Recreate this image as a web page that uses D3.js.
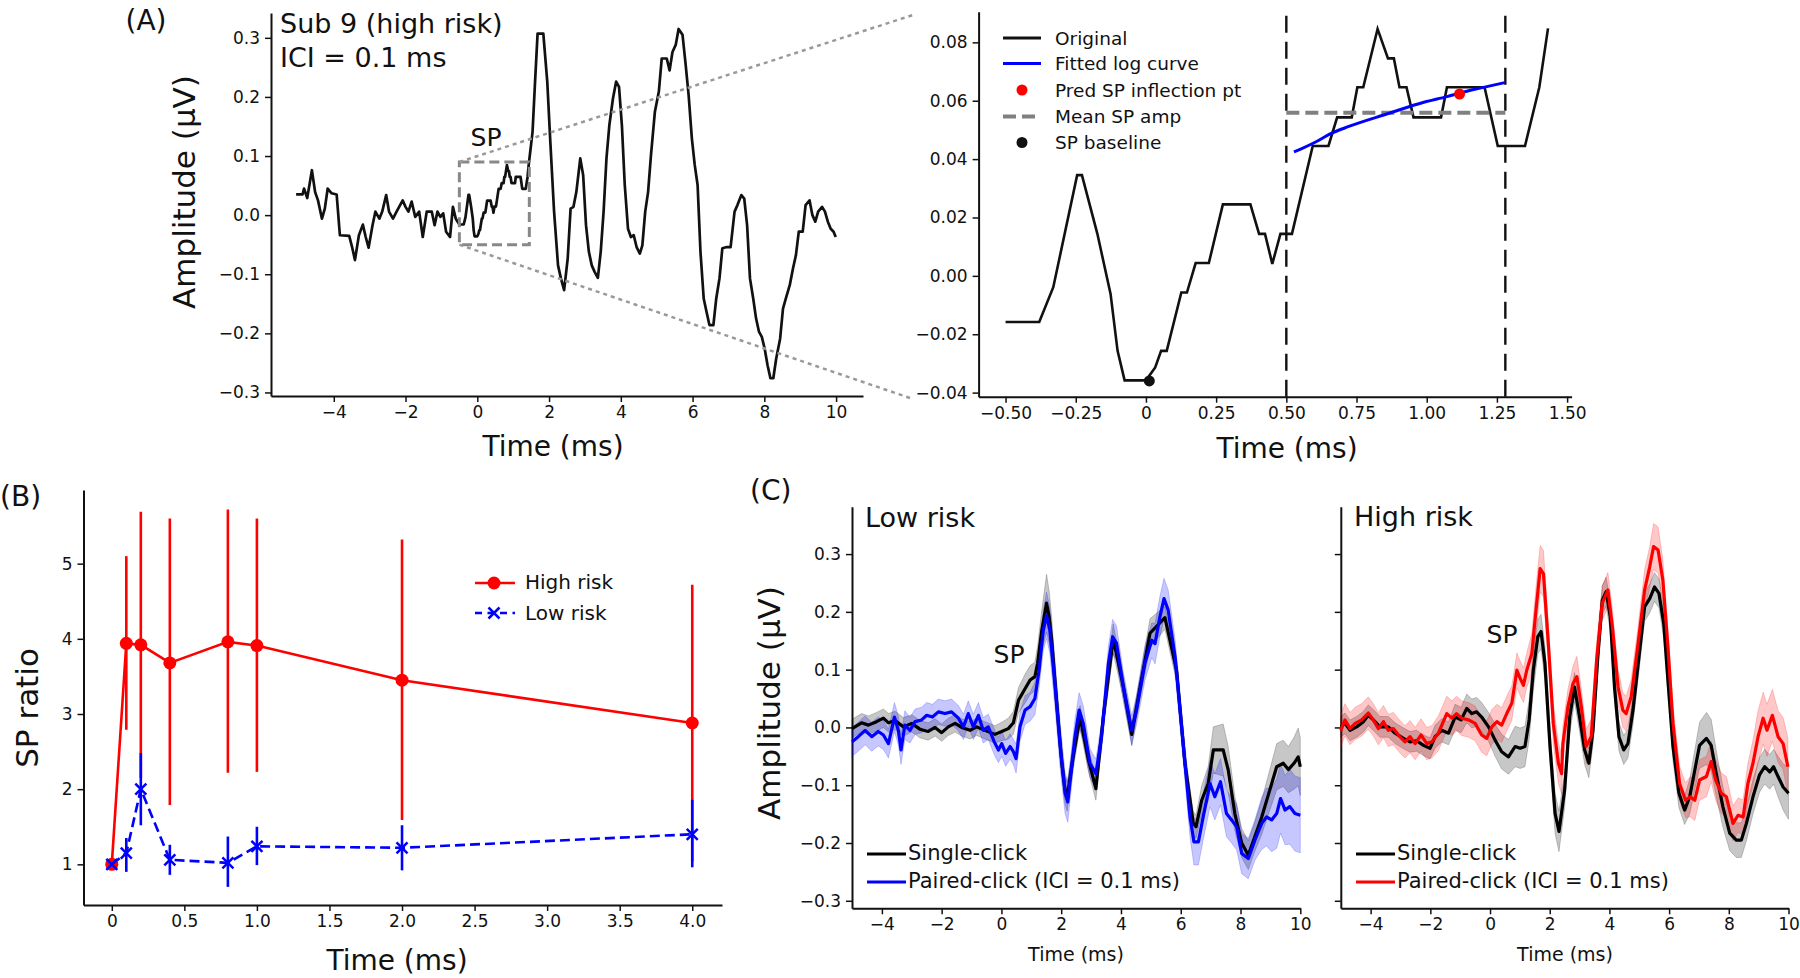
<!DOCTYPE html>
<html>
<head>
<meta charset="utf-8">
<script src="https://cdn.jsdelivr.net/npm/d3@7"></script>
<style>
  body { margin: 0; background: #fff; }
  svg { display: block; font-family: "DejaVu Sans", Verdana, sans-serif; }
</style>
</head>
<body>
<svg id="fig" width="1800" height="978"></svg>
<script>
// ---- Panel A: single subject trace (time ms, amplitude uV) ----
const subTrace = [
  [-5.05,0.035],[-4.87,0.035],[-4.83,0.045],[-4.74,0.029],[-4.61,0.076],[-4.52,0.039],[-4.44,0.025],
  [-4.33,-0.006],[-4.25,0.011],[-4.17,0.045],[-4.06,0.037],[-3.92,0.035],[-3.83,-0.034],[-3.57,-0.035],
  [-3.49,-0.054],[-3.41,-0.076],[-3.30,-0.034],[-3.19,-0.016],[-3.11,-0.037],[-3.03,-0.055],[-2.92,-0.017],
  [-2.84,0.006],[-2.73,-0.006],[-2.65,0.006],[-2.54,0.034],[-2.46,0.006],[-2.35,-0.006],[-2.25,0.006],
  [-2.08,0.025],[-2.00,0.014],[-1.92,0.006],[-1.83,0.023],[-1.73,-0.003],[-1.62,0.006],[-1.52,-0.037],
  [-1.41,0.006],[-1.27,0.006],[-1.19,-0.017],[-1.11,0.006],[-1.03,-0.003],[-0.95,0.003],[-0.87,-0.028],
  [-0.76,-0.037],[-0.68,0.014],[-0.60,-0.006],
  [-0.50,-0.0158],[-0.38,-0.0158],[-0.33,-0.0039],[-0.245,0.0345],[-0.228,0.0345],[-0.173,0.0144],
  [-0.126,-0.0062],[-0.101,-0.0257],[-0.076,-0.0358],[0.0,-0.0358],[0.033,-0.0314],[0.054,-0.0257],
  [0.074,-0.0257],[0.126,-0.0057],[0.146,-0.0057],[0.177,0.0044],[0.224,0.0044],[0.274,0.0245],
  [0.372,0.0245],[0.403,0.0144],[0.424,0.0144],[0.45,0.0041],[0.479,0.0144],[0.52,0.0144],[0.594,0.0445],
  [0.65,0.0445],[0.681,0.0543],[0.733,0.0543],[0.753,0.0646],[0.774,0.0646],[0.825,0.0846],[0.862,0.0745],
  [0.883,0.0745],[0.903,0.0646],[0.928,0.0646],[0.953,0.0543],[1.051,0.0543],[1.072,0.0646],[1.206,0.0646],
  [1.253,0.0445],[1.35,0.0445],[1.401,0.0646],[1.432,0.0848],
  [1.54,0.141],[1.61,0.226],[1.68,0.307],[1.84,0.307],[1.95,0.226],[2.03,0.13],[2.14,0.006],[2.25,-0.085],
  [2.33,-0.107],[2.42,-0.127],[2.52,-0.073],[2.60,0.011],[2.68,0.014],[2.76,0.039],[2.87,0.096],[2.95,0.068],
  [3.03,-0.017],[3.11,-0.062],[3.19,-0.085],[3.27,-0.096],[3.36,-0.106],[3.44,-0.062],[3.52,0.006],
  [3.60,0.096],[3.68,0.152],[3.78,0.197],[3.87,0.226],[3.95,0.217],[4.03,0.152],[4.11,0.051],[4.20,-0.023],
  [4.28,-0.037],[4.36,-0.034],[4.44,-0.054],[4.53,-0.065],[4.60,-0.051],[4.68,0.006],[4.76,0.039],
  [4.84,0.101],[4.95,0.175],[5.06,0.209],[5.14,0.265],[5.28,0.265],[5.36,0.245],[5.44,0.276],[5.53,0.288],
  [5.61,0.315],[5.72,0.305],[5.80,0.259],[5.89,0.203],[5.98,0.13],[6.06,0.085],[6.14,0.051],[6.22,-0.062],
  [6.31,-0.141],[6.39,-0.164],[6.47,-0.186],[6.58,-0.186],[6.66,-0.141],[6.75,-0.107],[6.83,-0.056],
  [6.96,-0.054],[7.06,-0.054],[7.17,0.006],[7.25,0.017],[7.36,0.034],[7.44,0.028],[7.52,-0.017],
  [7.60,-0.107],[7.69,-0.141],[7.77,-0.175],[7.85,-0.197],[7.93,-0.206],[8.01,-0.226],[8.09,-0.254],
  [8.17,-0.276],[8.25,-0.276],[8.33,-0.243],[8.44,-0.209],[8.52,-0.158],[8.60,-0.141],[8.71,-0.118],
  [8.80,-0.09],[8.88,-0.068],[8.96,-0.028],[9.07,-0.028],[9.15,0.017],[9.26,0.025],[9.34,0.0],
  [9.42,-0.011],[9.50,0.006],[9.61,0.014],[9.69,0.006],[9.77,-0.011],[9.85,-0.023],[9.93,-0.028],[9.99,-0.037]
];
const spBoxTime = [-0.5, 1.45];
const spBoxAmp = [-0.05, 0.09];
const zoomTimeRange = [-0.51, 1.44];
const logFitTime = [0.527, 0.557, 0.599, 0.66, 0.72, 0.866, 0.969, 1.072, 1.175, 1.278];
const logFitAmp = [0.0425, 0.0437, 0.0456, 0.0488, 0.0511, 0.0557, 0.0589, 0.0614, 0.064, 0.0662];
const spWindow = [0.5, 1.28];
const meanSpAmp = 0.0559;
const inflectionPt = [1.117, 0.0623];
const baselinePt = [0.012, -0.036];
const legendA = ["Original", "Fitted log curve", "Pred SP inflection pt", "Mean SP amp", "SP baseline"];

// ---- Panel B: SP ratio per ICI ----
const iciTimes = [0, 0.1, 0.2, 0.4, 0.8, 1.0, 2.0, 4.0];
const highRiskMean = [1.0, 3.94, 3.92, 3.68, 3.96, 3.91, 3.45, 2.88];
const highRiskLo = [1.0, 2.79, 2.15, 1.79, 2.22, 2.23, 1.59, 1.04];
const highRiskHi = [1.0, 5.10, 5.69, 5.60, 5.72, 5.60, 5.32, 4.72];
const lowRiskMean = [1.0, 1.15, 2.0, 1.06, 1.02, 1.24, 1.22, 1.40];
const lowRiskLo = [1.0, 0.90, 1.52, 0.86, 0.70, 0.99, 0.92, 0.96];
const lowRiskHi = [1.0, 1.35, 2.48, 1.26, 1.37, 1.50, 1.52, 1.86];

// ---- Panel C: grand averages [time, amplitude, sem] ----
const lowSingle = [
  [-5.0,-0.002,0.016],[-4.68,0.008,0.016],[-4.45,0.004,0.016],[-4.18,0.010,0.016],[-3.95,0.016,0.016],
  [-3.78,0.008,0.016],[-3.56,0.012,0.016],[-3.28,0.001,0.016],[-3.0,0.007,0.015],[-2.73,-0.003,0.015],
  [-2.45,-0.007,0.015],[-2.22,0.0,0.015],[-2.0,-0.009,0.015],[-1.78,0.001,0.015],[-1.55,0.007,0.015],
  [-1.33,0.0,0.015],[-1.05,-0.005,0.015],[-0.83,0.001,0.015],[-0.55,-0.005,0.015],[-0.22,-0.012,0.015],
  [0.01,-0.007,0.016],[0.23,-0.002,0.018],[0.40,0.008,0.02],[0.57,0.047,0.022],[0.79,0.067,0.025],
  [0.96,0.082,0.025],[1.12,0.088,0.025],[1.21,0.111,0.03],[1.35,0.168,0.035],[1.51,0.215,0.05],
  [1.60,0.19,0.045],[1.68,0.151,0.04],[1.85,0.042,0.03],[2.02,-0.062,0.025],[2.13,-0.108,0.025],
  [2.2,-0.12,0.025],[2.40,-0.051,0.02],[2.63,0.018,0.02],[2.91,-0.056,0.02],[3.16,-0.106,0.02],
  [3.41,0.018,0.02],[3.74,0.154,0.025],[4.08,0.07,0.02],[4.36,-0.012,0.02],[4.64,0.07,0.02],
  [4.97,0.163,0.025],[5.47,0.19,0.02],[5.86,0.099,0.02],[6.14,-0.062,0.02],[6.42,-0.166,0.02],
  [6.51,-0.172,0.02],[6.70,-0.126,0.025],[6.92,-0.097,0.03],[7.09,-0.039,0.04],[7.42,-0.039,0.045],
  [7.59,-0.074,0.04],[7.81,-0.149,0.03],[8.04,-0.2,0.025],[8.26,-0.221,0.025],[8.48,-0.189,0.025],
  [8.71,-0.155,0.03],[8.98,-0.108,0.035],[9.21,-0.068,0.04],[9.43,-0.062,0.04],[9.6,-0.073,0.04],
  [9.79,-0.062,0.045],[9.93,-0.051,0.05],[10.0,-0.068,0.05]
];
const lowPaired = [
  [-5.0,-0.025,0.025],[-4.79,-0.016,0.025],[-4.56,-0.005,0.025],[-4.34,-0.016,0.025],[-4.12,-0.007,0.025],
  [-3.95,-0.013,0.025],[-3.78,-0.028,0.025],[-3.58,0.018,0.025],[-3.45,-0.005,0.025],[-3.36,-0.039,0.025],
  [-3.23,0.004,0.025],[-3.06,-0.005,0.022],[-2.89,0.010,0.022],[-2.67,0.013,0.022],[-2.50,0.021,0.022],
  [-2.31,0.018,0.022],[-2.11,0.027,0.022],[-1.89,0.024,0.022],[-1.67,0.027,0.022],[-1.44,0.016,0.022],
  [-1.27,0.001,0.022],[-1.11,0.024,0.022],[-0.94,0.001,0.022],[-0.77,0.021,0.022],[-0.61,-0.005,0.022],
  [-0.44,0.001,0.022],[-0.24,-0.025,0.022],[-0.10,-0.039,0.022],[0.01,-0.028,0.022],[0.14,-0.045,0.022],
  [0.29,-0.033,0.022],[0.40,-0.042,0.022],[0.49,-0.054,0.025],[0.62,0.001,0.025],[0.79,0.030,0.025],
  [0.96,0.036,0.025],[1.12,0.05,0.028],[1.26,0.099,0.03],[1.40,0.168,0.035],[1.51,0.194,0.04],
  [1.62,0.168,0.04],[1.79,0.076,0.04],[1.96,-0.028,0.04],[2.13,-0.114,0.035],[2.22,-0.129,0.035],
  [2.46,-0.016,0.03],[2.60,0.03,0.03],[2.74,0.007,0.03],[2.96,-0.062,0.025],[3.16,-0.08,0.025],
  [3.35,-0.016,0.025],[3.58,0.111,0.03],[3.72,0.157,0.03],[3.85,0.146,0.03],[4.08,0.07,0.025],
  [4.36,-0.005,0.025],[4.52,0.03,0.025],[4.80,0.111,0.03],[5.03,0.151,0.03],[5.14,0.145,0.035],
  [5.30,0.191,0.035],[5.44,0.223,0.035],[5.58,0.203,0.035],[5.81,0.122,0.03],[6.09,-0.033,0.03],
  [6.31,-0.155,0.035],[6.44,-0.198,0.04],[6.59,-0.198,0.04],[6.75,-0.155,0.04],[6.98,-0.097,0.04],
  [7.14,-0.12,0.04],[7.33,-0.094,0.04],[7.53,-0.149,0.04],[7.70,-0.160,0.04],[7.87,-0.172,0.04],
  [8.04,-0.218,0.035],[8.26,-0.227,0.035],[8.48,-0.195,0.035],[8.71,-0.166,0.045],[8.87,-0.155,0.05],
  [9.04,-0.160,0.055],[9.21,-0.149,0.06],[9.34,-0.123,0.06],[9.49,-0.143,0.06],[9.65,-0.137,0.065],
  [9.82,-0.149,0.065],[10.0,-0.152,0.065]
];
const highSingle = [
  [-5.0,0.001,0.018],[-4.86,0.007,0.018],[-4.69,-0.005,0.018],[-4.47,0.001,0.018],[-4.24,0.01,0.018],
  [-4.08,0.021,0.018],[-3.91,0.013,0.018],[-3.69,0.001,0.018],[-3.41,0.001,0.018],[-3.18,-0.01,0.018],
  [-2.90,-0.019,0.018],[-2.68,-0.025,0.018],[-2.46,-0.023,0.018],[-2.23,-0.031,0.018],[-2.01,-0.036,0.018],
  [-1.84,-0.016,0.02],[-1.62,-0.005,0.02],[-1.39,-0.01,0.02],[-1.17,0.018,0.022],[-0.97,0.013,0.022],
  [-0.78,0.033,0.025],[-0.61,0.024,0.025],[-0.45,0.027,0.025],[-0.28,0.018,0.025],[-0.05,0.001,0.025],
  [0.17,-0.022,0.028],[0.39,-0.042,0.03],[0.62,-0.051,0.03],[0.84,-0.033,0.035],[1.01,-0.036,0.035],
  [1.17,-0.033,0.035],[1.31,0.013,0.035],[1.45,0.099,0.035],[1.60,0.157,0.03],[1.71,0.166,0.03],
  [1.84,0.111,0.03],[2.01,-0.033,0.03],[2.18,-0.149,0.035],[2.31,-0.18,0.035],[2.50,-0.108,0.03],
  [2.67,0.018,0.03],[2.83,0.07,0.025],[3.0,0.018,0.025],[3.17,-0.039,0.025],[3.31,-0.062,0.025],
  [3.45,-0.005,0.025],[3.61,0.122,0.025],[3.76,0.22,0.025],[3.89,0.235,0.025],[4.03,0.191,0.025],
  [4.17,0.07,0.025],[4.32,-0.016,0.025],[4.48,-0.039,0.025],[4.62,-0.028,0.025],[4.79,0.03,0.025],
  [4.99,0.122,0.025],[5.18,0.209,0.025],[5.35,0.223,0.025],[5.51,0.243,0.025],[5.66,0.232,0.025],
  [5.82,0.18,0.025],[5.96,0.082,0.025],[6.13,-0.033,0.025],[6.33,-0.114,0.025],[6.52,-0.143,0.025],
  [6.69,-0.12,0.03],[6.86,-0.074,0.035],[7.02,-0.031,0.04],[7.25,-0.019,0.045],[7.41,-0.031,0.045],
  [7.58,-0.08,0.04],[7.80,-0.137,0.035],[8.03,-0.183,0.03],[8.25,-0.195,0.03],[8.42,-0.195,0.03],
  [8.59,-0.166,0.03],[8.81,-0.12,0.03],[9.03,-0.082,0.03],[9.20,-0.068,0.03],[9.37,-0.077,0.03],
  [9.50,-0.068,0.03],[9.65,-0.085,0.035],[9.82,-0.103,0.04],[10.0,-0.114,0.045]
];
const highPaired = [
  [-5.0,-0.005,0.028],[-4.86,0.013,0.028],[-4.69,-0.002,0.028],[-4.52,0.007,0.028],[-4.30,0.013,0.028],
  [-4.08,0.025,0.028],[-3.91,0.013,0.028],[-3.74,-0.002,0.028],[-3.57,0.01,0.028],[-3.41,-0.005,0.028],
  [-3.24,-0.002,0.028],[-3.02,-0.016,0.028],[-2.85,-0.025,0.028],[-2.68,-0.016,0.028],[-2.51,-0.028,0.028],
  [-2.31,-0.013,0.028],[-2.12,-0.028,0.028],[-1.95,-0.025,0.028],[-1.73,-0.01,0.03],[-1.45,0.024,0.03],
  [-1.28,0.016,0.03],[-1.12,0.024,0.03],[-0.95,0.016,0.03],[-0.72,0.013,0.03],[-0.50,0.007,0.03],
  [-0.28,-0.013,0.03],[-0.11,-0.019,0.03],[0.06,0.001,0.03],[0.23,0.01,0.03],[0.39,0.004,0.03],
  [0.56,0.024,0.03],[0.73,0.042,0.03],[0.90,0.099,0.03],[1.01,0.085,0.03],[1.12,0.073,0.03],
  [1.23,0.099,0.03],[1.40,0.128,0.035],[1.54,0.203,0.04],[1.68,0.275,0.04],[1.79,0.266,0.04],
  [1.96,0.14,0.035],[2.12,0.007,0.035],[2.29,-0.062,0.035],[2.40,-0.08,0.035],[2.44,-0.028,0.03],
  [2.61,0.036,0.03],[2.78,0.076,0.03],[2.91,0.088,0.035],[3.06,0.036,0.03],[3.22,-0.033,0.03],
  [3.39,-0.016,0.03],[3.58,0.122,0.03],[3.76,0.215,0.03],[3.95,0.238,0.03],[4.10,0.174,0.03],
  [4.29,0.07,0.03],[4.45,0.03,0.03],[4.56,0.024,0.03],[4.73,0.053,0.03],[4.96,0.145,0.03],
  [5.18,0.238,0.035],[5.35,0.278,0.035],[5.48,0.313,0.04],[5.63,0.307,0.04],[5.79,0.255,0.035],
  [5.96,0.14,0.03],[6.13,0.007,0.03],[6.35,-0.097,0.03],[6.55,-0.126,0.03],[6.71,-0.12,0.035],
  [6.86,-0.126,0.035],[7.02,-0.091,0.035],[7.25,-0.085,0.035],[7.41,-0.059,0.035],[7.56,-0.091,0.035],
  [7.75,-0.114,0.035],[7.92,-0.12,0.035],[8.14,-0.166,0.03],[8.31,-0.152,0.03],[8.48,-0.155,0.03],
  [8.64,-0.097,0.035],[8.81,-0.062,0.04],[8.98,-0.016,0.045],[9.15,0.016,0.045],[9.28,-0.005,0.045],
  [9.46,0.021,0.045],[9.65,-0.016,0.045],[9.82,-0.028,0.045],[9.98,-0.068,0.05]
];

const svg = d3.select("#fig");
const ink = "#111";

function drawAxes(g, x, y, o) {
  const ax = g.append("g")
    .attr("transform", `translate(0,${y.range()[0]})`)
    .call(d3.axisBottom(x).tickValues(o.xTicks).tickFormat(o.xFmt)
      .tickSize(6).tickSizeOuter(0).tickPadding(4));
  const ay = g.append("g")
    .attr("transform", `translate(${x.range()[0]},0)`)
    .call(d3.axisLeft(y).tickValues(o.yTicks).tickFormat(o.yFmt)
      .tickSize(6).tickSizeOuter(0).tickPadding(5));
  for (const a of [ax, ay]) {
    a.attr("font-family", null).attr("font-size", 17);
    a.select(".domain").attr("stroke", ink).attr("stroke-width", 2);
    a.selectAll(".tick line").attr("stroke", ink).attr("stroke-width", 1.5);
    a.selectAll(".tick text").attr("fill", ink);
  }
}

function text(x, y, str, size, opts = {}) {
  const t = svg.append("text")
    .attr("x", x).attr("y", y)
    .attr("font-size", size)
    .attr("fill", ink)
    .attr("dominant-baseline", "central")
    .attr("text-anchor", opts.anchor || "start")
    .text(str);
  if (opts.rotate) t.attr("transform", `rotate(${opts.rotate},${x},${y})`);
  return t;
}

const fmtZero = f => v => (v === 0 ? "0" : d3.format(f)(v));

// ================= Panel A (left) =================
const xA = d3.scaleLinear().domain([-5.75, 10.75]).range([271, 863]);
const yA = d3.scaleLinear().domain([-0.306, 0.342]).range([396, 13]);
const gA = svg.append("g");
drawAxes(gA, xA, yA, {
  xTicks: [-4, -2, 0, 2, 4, 6, 8, 10], xFmt: d3.format("d"),
  yTicks: [-0.3, -0.2, -0.1, 0, 0.1, 0.2, 0.3], yFmt: d3.format(".1f")
});
gA.append("path")
  .datum(subTrace)
  .attr("fill", "none").attr("stroke", ink).attr("stroke-width", 2.7)
  .attr("stroke-linejoin", "round")
  .attr("d", d3.line().x(d => xA(d[0])).y(d => yA(d[1])));

// zoom box
gA.append("rect")
  .attr("x", xA(spBoxTime[0])).attr("y", yA(spBoxAmp[1]))
  .attr("width", xA(spBoxTime[1]) - xA(spBoxTime[0]))
  .attr("height", yA(spBoxAmp[0]) - yA(spBoxAmp[1]))
  .attr("fill", "none").attr("stroke", "#888").attr("stroke-width", 3)
  .attr("stroke-dasharray", "10,5");

// ================= Panel A (right, zoom) =================
const xZ = d3.scaleLinear().domain([-0.596, 1.516]).range([978.6, 1571.6]);
const yZ = d3.scaleLinear().domain([-0.0414, 0.0905]).range([396.7, 11.7]);

const connectors = [
  [[xA(spBoxTime[0]), yA(spBoxAmp[1])], [916, 14]],
  [[xA(spBoxTime[0]), yA(spBoxAmp[0])], [913, 399]]
];
svg.selectAll(".conn").data(connectors).join("line")
  .attr("x1", d => d[0][0]).attr("y1", d => d[0][1])
  .attr("x2", d => d[1][0]).attr("y2", d => d[1][1])
  .attr("stroke", "#999").attr("stroke-width", 2.5).attr("stroke-dasharray", "4,4");

const gZ = svg.append("g");
drawAxes(gZ, xZ, yZ, {
  xTicks: [-0.5, -0.25, 0, 0.25, 0.5, 0.75, 1.0, 1.25, 1.5], xFmt: fmtZero(".2f"),
  yTicks: [-0.04, -0.02, 0, 0.02, 0.04, 0.06, 0.08], yFmt: d3.format(".2f")
});
gZ.append("path")
  .datum(subTrace.filter(d => d[0] >= zoomTimeRange[0] && d[0] <= zoomTimeRange[1]))
  .attr("fill", "none").attr("stroke", ink).attr("stroke-width", 2.6)
  .attr("d", d3.line().x(d => xZ(d[0])).y(d => yZ(d[1])));
gZ.selectAll(".win").data(spWindow).join("line")
  .attr("x1", d => xZ(d)).attr("x2", d => xZ(d))
  .attr("y1", yZ.range()[0]).attr("y2", yZ.range()[1])
  .attr("stroke", ink).attr("stroke-width", 2.4).attr("stroke-dasharray", "17,9");
gZ.append("line")
  .attr("x1", xZ(spWindow[0])).attr("x2", xZ(spWindow[1]))
  .attr("y1", yZ(meanSpAmp)).attr("y2", yZ(meanSpAmp))
  .attr("stroke", "#808080").attr("stroke-width", 4).attr("stroke-dasharray", "13,6");
gZ.append("path")
  .datum(d3.zip(logFitTime, logFitAmp))
  .attr("fill", "none").attr("stroke", "#0000ff").attr("stroke-width", 3)
  .attr("d", d3.line().curve(d3.curveMonotoneX).x(d => xZ(d[0])).y(d => yZ(d[1])));
gZ.append("circle").attr("cx", xZ(inflectionPt[0])).attr("cy", yZ(inflectionPt[1]))
  .attr("r", 5.5).attr("fill", "#ff0000");
gZ.append("circle").attr("cx", xZ(baselinePt[0])).attr("cy", yZ(baselinePt[1]))
  .attr("r", 5.5).attr("fill", ink);

// legend A
const legAY = [38, 63.5, 90, 116.5, 142.5];
legendA.forEach((name, i) => {
  const y = legAY[i];
  if (i === 0 || i === 1) {
    svg.append("line").attr("x1", 1003).attr("x2", 1041).attr("y1", y).attr("y2", y)
      .attr("stroke", i === 0 ? ink : "#0000ff").attr("stroke-width", 3);
  } else if (i === 3) {
    svg.append("line").attr("x1", 1003).attr("x2", 1041).attr("y1", y).attr("y2", y)
      .attr("stroke", "#808080").attr("stroke-width", 4).attr("stroke-dasharray", "13,6");
  } else {
    svg.append("circle").attr("cx", 1022).attr("cy", y).attr("r", 5.5)
      .attr("fill", i === 2 ? "#ff0000" : ink);
  }
  text(1055, y, name, 18.5);
});

text(146, 20, "(A)", 28, { anchor: "middle" });
text(280, 23, "Sub 9 (high risk)", 27);
text(280, 57, "ICI = 0.1 ms", 27);
text(486, 137, "SP", 25, { anchor: "middle" });
text(184, 192, "Amplitude (\u03bcV)", 31, { anchor: "middle", rotate: -90 });
text(553, 446, "Time (ms)", 28, { anchor: "middle" });
text(1287, 448, "Time (ms)", 28, { anchor: "middle" });

// ================= Panel B =================
const xB = d3.scaleLinear().domain([-0.195, 4.205]).range([83.5, 722]);
const yB = d3.scaleLinear().domain([0.459, 5.98]).range([905, 490]);
const gB = svg.append("g");
drawAxes(gB, xB, yB, {
  xTicks: [0, 0.5, 1, 1.5, 2, 2.5, 3, 3.5, 4], xFmt: fmtZero(".1f"),
  yTicks: [1, 2, 3, 4, 5], yFmt: d3.format("d")
});
const lineB = d3.line().x(d => xB(d[0])).y(d => yB(d[1]));
const highRows = iciTimes.map((t, i) => [t, highRiskMean[i], highRiskLo[i], highRiskHi[i]]);
const lowRows = iciTimes.map((t, i) => [t, lowRiskMean[i], lowRiskLo[i], lowRiskHi[i]]);

gB.append("path").datum(highRows).attr("fill", "none")
  .attr("stroke", "#ff0000").attr("stroke-width", 2.6).attr("d", lineB);
gB.selectAll(".errH").data(highRows).join("line")
  .attr("x1", d => xB(d[0])).attr("x2", d => xB(d[0]))
  .attr("y1", d => yB(d[2])).attr("y2", d => yB(d[3]))
  .attr("stroke", "#ff0000").attr("stroke-width", 2.6);
gB.selectAll(".dotH").data(highRows).join("circle")
  .attr("cx", d => xB(d[0])).attr("cy", d => yB(d[1])).attr("r", 6.5).attr("fill", "#ff0000");

gB.append("path").datum(lowRows).attr("fill", "none")
  .attr("stroke", "#0000ff").attr("stroke-width", 2.6).attr("stroke-dasharray", "10,5").attr("d", lineB);
gB.selectAll(".errL").data(lowRows).join("line")
  .attr("x1", d => xB(d[0])).attr("x2", d => xB(d[0]))
  .attr("y1", d => yB(d[2])).attr("y2", d => yB(d[3]))
  .attr("stroke", "#0000ff").attr("stroke-width", 2.6);
const xMark = "M-5.5,-5.5L5.5,5.5M-5.5,5.5L5.5,-5.5";
gB.selectAll(".xL").data(lowRows).join("path")
  .attr("transform", d => `translate(${xB(d[0])},${yB(d[1])})`)
  .attr("d", xMark).attr("stroke", "#0000ff").attr("stroke-width", 2.5).attr("fill", "none");

// legend B
svg.append("line").attr("x1", 475).attr("x2", 515).attr("y1", 583).attr("y2", 583)
  .attr("stroke", "#ff0000").attr("stroke-width", 2.6);
svg.append("circle").attr("cx", 494).attr("cy", 583).attr("r", 6.5).attr("fill", "#ff0000");
svg.append("line").attr("x1", 475).attr("x2", 515).attr("y1", 613).attr("y2", 613)
  .attr("stroke", "#0000ff").attr("stroke-width", 2.6).attr("stroke-dasharray", "7,5.5");
svg.append("path").attr("transform", "translate(494,613)").attr("d", xMark)
  .attr("stroke", "#0000ff").attr("stroke-width", 2.5);
text(525, 582, "High risk", 20);
text(525, 613, "Low risk", 20);

text(0, 496, "(B)", 28);
text(27, 708, "SP ratio", 31, { anchor: "middle", rotate: -90 });
text(397, 960, "Time (ms)", 28, { anchor: "middle" });

// ================= Panel C =================
function drawGrand(xRange, yRange, single, paired, color, showY) {
  const x = d3.scaleLinear().domain([-5, 10]).range(xRange);
  const y = d3.scaleLinear().domain([-0.313, 0.382]).range(yRange);
  const g = svg.append("g");
  drawAxes(g, x, y, {
    xTicks: [-4, -2, 0, 2, 4, 6, 8, 10], xFmt: d3.format("d"),
    yTicks: [-0.3, -0.2, -0.1, 0, 0.1, 0.2, 0.3], yFmt: showY ? d3.format(".1f") : () => ""
  });
  const area = d3.area().x(d => x(d[0])).y0(d => y(d[1] - d[2])).y1(d => y(d[1] + d[2]));
  const line = d3.line().x(d => x(d[0])).y(d => y(d[1]));
  const series = [[single, "#000000", 0.22], [paired, color, 0.22]];
  for (const [data, c, a] of series) {
    g.append("path").datum(data).attr("d", area)
      .attr("fill", c).attr("fill-opacity", a)
      .attr("stroke", c).attr("stroke-opacity", 0.2).attr("stroke-width", 1);
  }
  for (const [data, c] of series) {
    g.append("path").datum(data).attr("d", line)
      .attr("fill", "none").attr("stroke", c).attr("stroke-width", 3.2).attr("stroke-linejoin", "round");
  }
  return { x, y };
}

drawGrand([852, 1300.3], [908.3, 506.7], lowSingle, lowPaired, "#0000ff", true);
drawGrand([1340.8, 1788.5], [908.3, 506.7], highSingle, highPaired, "#ff0000", false);

// legends C
const legC = [
  [867, 908, 854, "#000000", "Single-click"],
  [867, 908, 882, "#0000ff", "Paired-click (ICI = 0.1 ms)"],
  [1356, 1397, 854, "#000000", "Single-click"],
  [1356, 1397, 882, "#ff0000", "Paired-click (ICI = 0.1 ms)"]
];
for (const [x0, tx, y, c, label] of legC) {
  svg.append("line").attr("x1", x0).attr("x2", x0 + 39).attr("y1", y).attr("y2", y)
    .attr("stroke", c).attr("stroke-width", 3);
  text(tx, y - 1, label, 21);
}

text(750, 490, "(C)", 28);
text(865, 517, "Low risk", 27);
text(1354, 516, "High risk", 27);
text(1009, 654, "SP", 25, { anchor: "middle" });
text(1502, 634, "SP", 25, { anchor: "middle" });
text(769, 703, "Amplitude (\u03bcV)", 31, { anchor: "middle", rotate: -90 });
text(1076, 954, "Time (ms)", 19, { anchor: "middle" });
text(1565, 954, "Time (ms)", 19, { anchor: "middle" });
</script>
</body>
</html>
